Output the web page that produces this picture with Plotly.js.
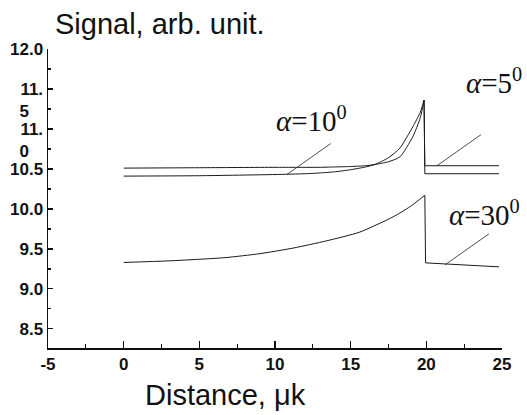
<!DOCTYPE html>
<html>
<head>
<meta charset="utf-8">
<script src="https://cdn.plot.ly/plotly-3.0.1.min.js"></script>
<style>html,body{margin:0;padding:0;background:#fff;}#chart{width:527px;height:415px;}</style>
</head>
<body>
<div id="chart"></div>
<script>
// ---- data ----
const x5 = [0, 5, 10, 13, 14, 15, 16, 16.6, 17.5, 18.25, 19.1, 19.6, 19.85, 19.9, 24.8];
const y5 = [10.51, 10.515, 10.52, 10.52, 10.525, 10.53, 10.54, 10.555, 10.59, 10.65, 10.9, 11.14, 11.36, 10.54, 10.54];

const x10 = [0, 5, 10, 12, 13, 14, 15, 16, 16.6, 17.5, 18.25, 19.1, 19.6, 19.85, 19.9, 24.8];
const y10 = [10.41, 10.415, 10.43, 10.44, 10.45, 10.465, 10.49, 10.525, 10.555, 10.64, 10.76, 11.025, 11.21, 11.36, 10.44, 10.44];

const x30 = [0, 3, 5, 6.7, 9, 11.2, 13.4, 15.6, 17.8, 18.9, 19.9, 19.95, 24.8];
const y30 = [9.33, 9.35, 9.37, 9.39, 9.44, 9.51, 9.60, 9.71, 9.90, 10.025, 10.17, 9.325, 9.275];

const xTickVals = [-5, 0, 5, 10, 15, 20, 25];
const xTickText = ["-5", "0", "5", "10", "15", "20", "25"];
const yTickVals = [8.5, 9.0, 9.5, 10.0, 10.5, 11.0, 11.5, 12.0];
const yTickText = ["8.5", "9.0", "9.5", "10.0", "10.5",
  "\u00a0<br>11.<br>5\u00a0\u00a0\u00a0", "\u00a0<br>11.<br>5\u00a0\u00a0\u00a0".replace("5", "5"), "12.0"];
yTickText[5] = "\u00a0<br>11.<br>0\u00a0\u00a0\u00a0";

const titleText = "Signal, arb. unit.";
const xTitleText = "Distance, μk";
const labelText = ["<i>α</i>=5<sup>0</sup>", "<i>α</i>=10<sup>0</sup>", "<i>α</i>=30<sup>0</sup>"];
const labelX = [24.5, 12.4, 23.85];
const labelY = [11.6, 11.13, 9.95];
const pointerX = [20.7, 10.78, 21.23];
const pointerY = [10.54, 10.43, 9.3];

// ---- chart ----
const lineStyle = {color: '#1a1a1a', width: 1};
const traces = [];
function addSeries(xs, ys, name) {
  // index of the peak: curved rise drawn smooth, the drop and tail drawn straight
  let pk = 0;
  for (let i = 1; i < ys.length; i++) if (ys[i] > ys[pk]) pk = i;
  traces.push({x: xs.slice(0, pk + 1), y: ys.slice(0, pk + 1), mode: 'lines',
    line: Object.assign({shape: 'spline', smoothing: 0.6}, lineStyle), name: name, hoverinfo: 'skip'});
  traces.push({x: xs.slice(pk), y: ys.slice(pk), mode: 'lines', line: lineStyle, name: name, hoverinfo: 'skip'});
}
addSeries(x5, y5, 'α=5°');
addSeries(x10, y10, 'α=10°');
addSeries(x30, y30, 'α=30°');

const serif = 'Liberation Serif, Times New Roman, serif';
const sans = 'Arial, Liberation Sans, sans-serif';
const annotations = [];
const shapes = [];
for (let i = 0; i < labelText.length; i++) {
  annotations.push({
    x: labelX[i], y: labelY[i], xref: 'x', yref: 'y',
    text: labelText[i], showarrow: false,
    font: {family: serif, size: 29, color: '#111'},
    xanchor: 'center', yanchor: 'middle'
  });
  shapes.push({
    type: 'line', xref: 'x', yref: 'y',
    xsizemode: 'pixel', ysizemode: 'pixel',
    xanchor: pointerX[i], yanchor: pointerY[i],
    x0: 0, y0: 0, x1: 44, y1: 31,
    line: {color: '#222', width: 0.8}
  });
}
annotations.push({
  xref: 'paper', yref: 'paper', x: (225 - 48) / 454, y: -(395 - 348) / 299,
  xanchor: 'center', yanchor: 'middle', showarrow: false,
  text: xTitleText, font: {family: sans, size: 29, color: '#111'}
});

const layout = {
  width: 527, height: 415,
  margin: {l: 48, r: 25, t: 49, b: 67, pad: 0},
  paper_bgcolor: '#fff', plot_bgcolor: '#fff',
  showlegend: false,
  font: {family: sans, color: '#111'},
  title: {
    text: titleText,
    font: {family: sans, size: 29, color: '#111'},
    xref: 'container', yref: 'container',
    x: 55 / 527, xanchor: 'left',
    y: 1 - 24 / 415, yanchor: 'middle'
  },
  xaxis: {
    range: [-5, 25],
    tickmode: 'array', tickvals: xTickVals, ticktext: xTickText,
    ticks: 'inside', ticklen: 7, tickwidth: 1.3, tickcolor: '#111',
    minor: {ticks: 'inside', ticklen: 4, tickwidth: 1.3, tickcolor: '#111', dtick: 2.5, tick0: 0, showgrid: false},
    showline: true, linecolor: '#111', linewidth: 1.5,
    showgrid: false, zeroline: false,
    tickfont: {family: sans, size: 17, color: '#111', weight: 'bold'}
  },
  yaxis: {
    range: [8.26, 12.0],
    tickmode: 'array', tickvals: yTickVals, ticktext: yTickText,
    ticks: 'inside', ticklen: 5, tickwidth: 1.3, tickcolor: '#111',
    minor: {ticks: 'inside', ticklen: 3, tickwidth: 1.3, tickcolor: '#111', dtick: 0.25, tick0: 0, showgrid: false},
    showline: true, linecolor: '#111', linewidth: 1.5,
    showgrid: false, zeroline: false,
    tickfont: {family: sans, size: 17, color: '#111', weight: 'bold'}
  },
  annotations: annotations,
  shapes: shapes
};

Plotly.newPlot('chart', traces, layout, {staticPlot: true, displayModeBar: false});
</script>
</body>
</html>
